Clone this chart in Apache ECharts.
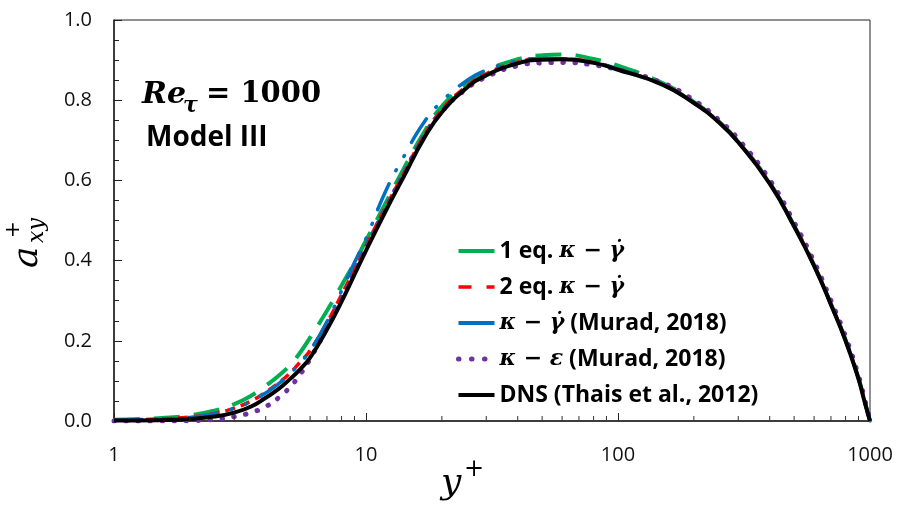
<!DOCTYPE html>
<html>
<head>
<meta charset="utf-8">
<script src="https://cdn.jsdelivr.net/npm/echarts@6/dist/echarts.min.js"></script>
<style>html,body{margin:0;padding:0;background:#fff;}#c{width:901px;height:507px;}</style>
</head>
<body>
<div id="c"></div>
<script>
// y+ positions shared by all series
const yPlus = [1, 1.5, 2, 2.5, 3, 3.5, 4, 4.5, 5, 5.5, 6, 7, 8, 9, 10, 12, 14, 17, 20, 25, 30, 40, 50, 60, 80, 100, 150, 200, 250, 300, 400, 500, 600, 700, 800, 900, 950, 1000];

const oneEq = [0.003, 0.007, 0.014, 0.026, 0.042, 0.063, 0.088, 0.113, 0.14, 0.172, 0.208, 0.275, 0.338, 0.395, 0.45, 0.545, 0.625, 0.72, 0.785, 0.84, 0.873, 0.902, 0.912, 0.914, 0.903, 0.886, 0.843, 0.796, 0.748, 0.697, 0.594, 0.487, 0.389, 0.292, 0.202, 0.107, 0.052, 0];
const twoEq = [0.002, 0.005, 0.010, 0.019, 0.032, 0.050, 0.072, 0.095, 0.12, 0.148, 0.176, 0.245, 0.315, 0.378, 0.437, 0.535, 0.613, 0.712, 0.776, 0.834, 0.866, 0.895, 0.903, 0.903, 0.894, 0.877, 0.839, 0.794, 0.747, 0.696, 0.593, 0.486, 0.388, 0.291, 0.201, 0.106, 0.051, 0];
const muradKG = [0.002, 0.005, 0.009, 0.018, 0.031, 0.049, 0.07, 0.093, 0.118, 0.146, 0.175, 0.248, 0.325, 0.395, 0.455, 0.575, 0.655, 0.745, 0.797, 0.848, 0.875, 0.898, 0.904, 0.903, 0.894, 0.878, 0.839, 0.794, 0.747, 0.696, 0.593, 0.486, 0.388, 0.291, 0.201, 0.106, 0.051, 0];
const muradKE = [0, 0, 0.001, 0.004, 0.011, 0.021, 0.036, 0.058, 0.085, 0.118, 0.155, 0.232, 0.305, 0.372, 0.432, 0.532, 0.612, 0.71, 0.772, 0.828, 0.858, 0.886, 0.893, 0.894, 0.888, 0.876, 0.843, 0.80, 0.752, 0.703, 0.601, 0.495, 0.397, 0.30, 0.21, 0.113, 0.057, 0];
const dns = [0.001, 0.002, 0.005, 0.011, 0.021, 0.036, 0.058, 0.080, 0.105, 0.130, 0.158, 0.228, 0.298, 0.365, 0.425, 0.525, 0.605, 0.705, 0.770, 0.830, 0.862, 0.892, 0.901, 0.902, 0.893, 0.876, 0.839, 0.793, 0.746, 0.695, 0.592, 0.485, 0.387, 0.29, 0.20, 0.105, 0.05, 0];

const seriesNames = ['1 eq. κ − γ\u0307', '2 eq. κ − γ\u0307', 'κ − γ\u0307 (Murad, 2018)', 'κ − ε (Murad, 2018)', 'DNS (Thais et al., 2012)'];
const xTickLabels = [1, 10, 100, 1000];
const yTickLabels = ['0.0', '0.2', '0.4', '0.6', '0.8', '1.0'];
const xMinorTicks = [2,3,4,5,6,7,8,9,20,30,40,50,60,70,80,90,200,300,400,500,600,700,800,900];

const zip = (xs, ys) => xs.map((x, i) => [x, ys[i]]);
const allValues = [oneEq, twoEq, muradKG, muradKE, dns];
const colors = ['#00B050', '#FF0000', '#0070C0', '#7030A0', '#000000'];
const lineStyles = [
  {width: 4, type: [26, 14], cap: 'butt'},
  {width: 3.5, type: [10, 6], cap: 'butt'},
  {width: 3.5, type: [28, 15, 1, 15, 1, 15], cap: 'round'},
  {width: 5, type: [0.5, 11.5], cap: 'round'},
  {width: 4, type: 'solid', cap: 'butt'}
];
const legendLineStyles = [
  {width: 4, type: 'solid', cap: 'butt'},
  {width: 3.5, type: [13, 15], cap: 'butt'},
  {width: 4, type: 'solid', cap: 'butt'},
  {width: 5, type: [0.5, 12.5], cap: 'round'},
  {width: 4, type: 'solid', cap: 'butt'}
];
const hiddenSymbol = {color: 'rgba(0,0,0,0)', borderColor: 'rgba(0,0,0,0)', borderWidth: 0, opacity: 0};

const chart = echarts.init(document.getElementById('c'), null, {renderer: 'canvas'});

const series = seriesNames.map((name, i) => ({
  name: name,
  type: 'line',
  data: zip(yPlus, allValues[i]),
  showSymbol: false,
  symbol: 'none',
  smooth: 0.5,
  color: colors[i],
  lineStyle: Object.assign({color: colors[i]}, lineStyles[i]),
  z: 2 + i
}));

series.push({
  type: 'custom',
  silent: true,
  z: 10,
  data: xMinorTicks.map(v => [v, 0]),
  renderItem: function (params, api) {
    const p = api.coord([api.value(0), 0]);
    return {type: 'line', shape: {x1: p[0], y1: p[1], x2: p[0], y2: p[1] - 5}, style: {stroke: '#333', lineWidth: 1}};
  }
});

function legendFmt(name) {
  const m = name.match(/κ − (γ\u0307|ε)/);
  if (!m) return '{t|' + name + '}';
  const pre = name.slice(0, m.index);
  const post = name.slice(m.index + m[0].length);
  return (pre ? '{t|' + pre + '}' : '') + '{m|' + m[0] + '}' + (post ? '{t|' + post + '}' : '');
}

const option = {
  animation: false,
  backgroundColor: '#fff',
  grid: {left: 114, right: 31, top: 20, bottom: 86, show: true, borderColor: '#222', borderWidth: 1, containLabel: false, outerBoundsMode: 'none'},
  xAxis: {
    type: 'log', logBase: 10, min: 1, max: 1000,
    axisLine: {show: true, lineStyle: {color: '#222', width: 1.5}},
    axisTick: {show: true, inside: true, length: 8, lineStyle: {color: '#222', width: 1}},
    splitLine: {show: false},
    axisLabel: {color: '#111', fontFamily: 'Open Sans', fontSize: 20, margin: 24,
      formatter: v => { const s = String(Math.round(v)); return xTickLabels.map(String).indexOf(s) >= 0 ? s : ''; }}
  },
  yAxis: {
    type: 'value', min: 0, max: 1, interval: 0.2,
    axisLine: {show: true, lineStyle: {color: '#222', width: 1.5}},
    axisTick: {show: true, inside: true, length: 8, lineStyle: {color: '#222', width: 1}},
    minorTick: {show: true, splitNumber: 4, length: 5, lineStyle: {color: '#222', width: 1}},
    splitLine: {show: false},
    axisLabel: {color: '#111', fontFamily: 'Open Sans', fontSize: 20, margin: 22,
      formatter: v => yTickLabels[Math.round(v / 0.2)]}
  },
  legend: {
    orient: 'vertical', left: 456, top: 238, padding: 0,
    itemWidth: 36, itemHeight: 14, itemGap: 10,
    data: seriesNames.map((n, i) => ({name: n, lineStyle: Object.assign({color: colors[i]}, legendLineStyles[i]), itemStyle: hiddenSymbol})),
    formatter: legendFmt,
    textStyle: {
      color: '#000', fontFamily: 'Open Sans', fontWeight: 'bold', fontSize: 23, lineHeight: 26,
      rich: {
        t: {color: '#000', fontFamily: 'Open Sans', fontWeight: 'bold', fontSize: 23, lineHeight: 26},
        m: {color: '#000', fontFamily: 'DejaVu Serif', fontStyle: 'italic', fontWeight: 'bold', fontSize: 22, lineHeight: 26}
      }
    }
  },
  graphic: [
    {type: 'text', left: 142, top: 80, style: {text: 'Re', font: 'italic bold 30px "DejaVu Serif"', fill: '#000'}},
    {type: 'text', left: 183, top: 95, style: {text: 'τ', font: 'italic bold 22px "DejaVu Serif"', fill: '#000'}},
    {type: 'text', left: 206, top: 80, style: {text: '= 1000', font: 'bold 29px "DejaVu Serif"', fill: '#000'}},
    {type: 'text', left: 146, top: 124, style: {text: 'Model III', font: 'bold 28px "Open Sans"', fill: '#000'}},
    {type: 'text', left: 441, top: 466, style: {text: 'y', font: 'italic 36px "DejaVu Serif"', fill: '#000'}},
    {type: 'text', left: 464, top: 458, style: {text: '+', font: '24px "DejaVu Serif"', fill: '#000'}},
    {type: 'group', x: 44, y: 268, rotation: Math.PI / 2, children: [
      {type: 'text', x: 0, y: -34, style: {text: 'a', font: 'italic 36px "DejaVu Serif"', fill: '#000'}},
      {type: 'text', x: 25, y: -18, style: {text: 'xy', font: 'italic 22px "DejaVu Serif"', fill: '#000'}},
      {type: 'text', x: 30, y: -40, style: {text: '+', font: '20px "DejaVu Serif"', fill: '#000'}}
    ]}
  ],
  series: series
};
chart.setOption(option);
</script>
</body>
</html>
